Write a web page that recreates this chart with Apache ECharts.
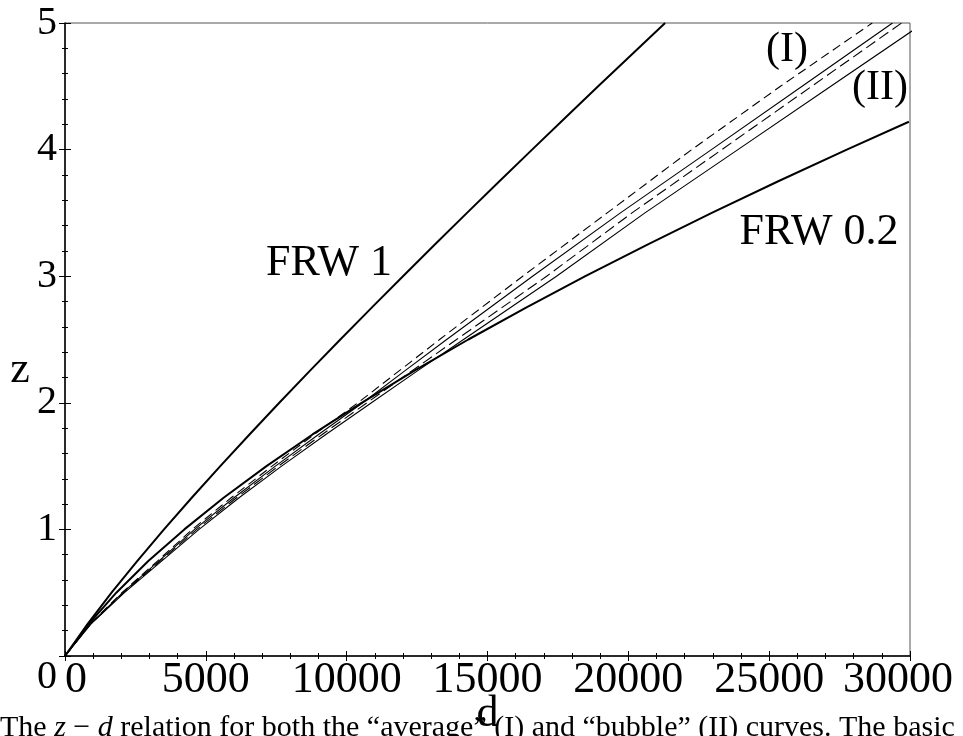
<!DOCTYPE html>
<html>
<head>
<meta charset="utf-8">
<script src="https://cdn.jsdelivr.net/npm/echarts@6.0.0/dist/echarts.min.js"></script>
<style>
  html, body { margin: 0; padding: 0; background: #fff; }
  #chart { width: 963px; height: 736px; }
</style>
</head>
<body>
<div id="chart"></div>
<script>
// z values of each curve and the distance d
var frw1Z = [0, 0.25, 0.5, 0.75, 1, 1.25, 1.5, 1.75, 2, 2.25, 2.5, 2.75, 3, 3.25, 3.5, 3.75, 4, 4.25, 4.5, 4.75, 5];
var frw1D = [0, 792, 1652, 2563, 3515, 4500, 5513, 6550, 7608, 8683, 9775, 10881, 12000, 13131, 14272, 15423, 16584, 17752, 18929, 20113, 21306];

var frw02Z = [0, 0.25, 0.5, 0.75, 1, 1.25, 1.5, 1.75, 2, 2.25, 2.5, 2.75, 3, 3.25, 3.5, 3.75, 4, 4.22];
var frw02D = [0, 832, 1821, 2957, 4237, 5631, 7153, 8788, 10532, 12377, 14319, 16353, 18474, 20679, 22963, 25323, 27757, 29960];

var ltbZ = [0, 0.25, 0.5, 0.75, 1, 1.25, 1.5, 1.75, 2, 2.25, 2.5, 3, 3.5, 4, 4.5, 5];
var curve1Dashed = [0, 880, 2020, 3280, 4520, 5900, 7350, 8850, 10400, 11850, 13300, 16250, 19250, 22250, 25400, 28660];
var curve1Solid = [0, 890, 2050, 3330, 4600, 6000, 7470, 9000, 10570, 12050, 13550, 16600, 19720, 22950, 26170, 29380];
var curve2Dashed = [0, 900, 2080, 3380, 4680, 6090, 7580, 9130, 10720, 12300, 13900, 17100, 20130, 23320, 26510, 29700];
var curve2Solid = [0, 910, 2110, 3430, 4760, 6180, 7690, 9260, 10880, 12500, 14150, 17450, 20590, 23890, 27190, 30490];

var xTicks = { min: 0, max: 30000, step: 5000 };
var yTicks = { min: 0, max: 5, step: 1 };

(function() {
  var serif = '"Liberation Serif", "Times New Roman", serif';
  var ink = '#000';

  function pairs(xs, zs) {
    return xs.map(function(d, i) { return [d, zs[i]]; });
  }

  function line(name, xs, zs, width, dash) {
    return {
      name: name,
      type: 'line',
      xAxisIndex: 0,
      yAxisIndex: 0,
      data: pairs(xs, zs),
      showSymbol: false,
      smooth: false,
      lineStyle: { color: ink, width: width, type: dash || 'solid' },
      silent: true
    };
  }

  // outer axes carry labels and outward ticks, inner ones only inward ticks
  function xAxis(grid, inside) {
    return {
      type: 'value',
      gridIndex: grid,
      min: xTicks.min,
      max: xTicks.max,
      interval: xTicks.step,
      name: inside ? '' : 'd',
      nameLocation: 'middle',
      nameGap: 36,
      nameMoveOverlap: false,
      nameTextStyle: { fontFamily: serif, fontSize: 44, color: ink },
      axisLine: { show: !inside, onZero: false, lineStyle: { color: ink, width: 1.5 } },
      axisTick: { show: true, inside: inside, length: 5, lineStyle: { color: ink, width: 1 } },
      minorTick: { show: true, splitNumber: 5, length: 3, lineStyle: { color: ink, width: 1 } },
      splitLine: { show: false },
      axisLabel: {
        show: !inside,
        margin: 2,
        fontFamily: serif,
        fontSize: 44,
        color: ink,
        formatter: function(v) {
          if (v === xTicks.min) return '{first|' + v + '}';
          if (v === xTicks.max) return '{last|' + v + '}';
          return String(v);
        },
        rich: {
          first: { fontFamily: serif, fontSize: 44, color: ink, padding: [0, 0, 0, 22] },
          last: { fontFamily: serif, fontSize: 44, color: ink, padding: [0, 24, 0, 0] }
        }
      }
    };
  }

  function yAxis(grid, inside) {
    return {
      type: 'value',
      gridIndex: grid,
      min: yTicks.min,
      max: yTicks.max,
      interval: yTicks.step,
      axisLine: { show: !inside, onZero: false, lineStyle: { color: ink, width: 1.5 } },
      axisTick: { show: true, inside: inside, length: 6, lineStyle: { color: ink, width: 1 } },
      minorTick: { show: true, splitNumber: 5, length: 3, lineStyle: { color: ink, width: 1 } },
      splitLine: { show: false },
      axisLabel: {
        show: !inside,
        margin: 8,
        fontFamily: serif,
        fontSize: 40,
        lineHeight: 42,
        color: ink,
        // the zero label sits one half line lower, level with the d labels
        formatter: function(v) {
          return v === yTicks.min ? '\n' + v : String(v);
        }
      }
    };
  }

  function label(text, x, y, size) {
    return {
      type: 'text',
      x: x,
      y: y,
      silent: true,
      style: {
        text: text,
        fontFamily: serif,
        fontSize: size,
        fill: ink,
        align: 'center',
        verticalAlign: 'middle'
      }
    };
  }

  var chart = echarts.init(document.getElementById('chart'), null, { renderer: 'canvas' });
  chart.setOption({
    animation: false,
    backgroundColor: '#fff',
    grid: [
      { left: 65, right: 53, top: 23, bottom: 80, outerBoundsMode: 'none', show: true, borderColor: '#555', borderWidth: 1, backgroundColor: 'transparent' },
      { left: 65, right: 53, top: 23, bottom: 80, outerBoundsMode: 'none', show: false }
    ],
    xAxis: [xAxis(0, false), xAxis(1, true)],
    yAxis: [yAxis(0, false), yAxis(1, true)],
    series: [
      line('FRW 1', frw1D, frw1Z, 2),
      line('FRW 0.2', frw02D, frw02Z, 2),
      line('(I) dashed', curve1Dashed, ltbZ, 1.1, [9, 5]),
      line('(I) solid', curve1Solid, ltbZ, 1.1),
      line('(II) dashed', curve2Dashed, ltbZ, 1.1, [11, 5]),
      line('(II) solid', curve2Solid, ltbZ, 1.1)
    ],
    graphic: [
      label('z', 20, 370, 44),
      label('FRW 1', 329, 263, 44),
      label('FRW 0.2', 819, 232, 44),
      label('(I)', 787, 50, 42),
      label('(II)', 880, 88, 42),
      {
        type: 'text',
        x: 0,
        y: 713,
        silent: true,
        style: {
          text: 'The {i|z} \u2212 {i|d} relation for both the \u201caverage\u201d (I) and \u201cbubble\u201d (II) curves. The basic',
          fontFamily: serif,
          fontSize: 30,
          fill: ink,
          verticalAlign: 'top',
          rich: {
            i: { fontFamily: serif, fontSize: 30, fontStyle: 'italic', fill: ink }
          }
        }
      }
    ]
  });
  window.addEventListener('resize', function() { chart.resize(); });
})();
</script>
</body>
</html>
